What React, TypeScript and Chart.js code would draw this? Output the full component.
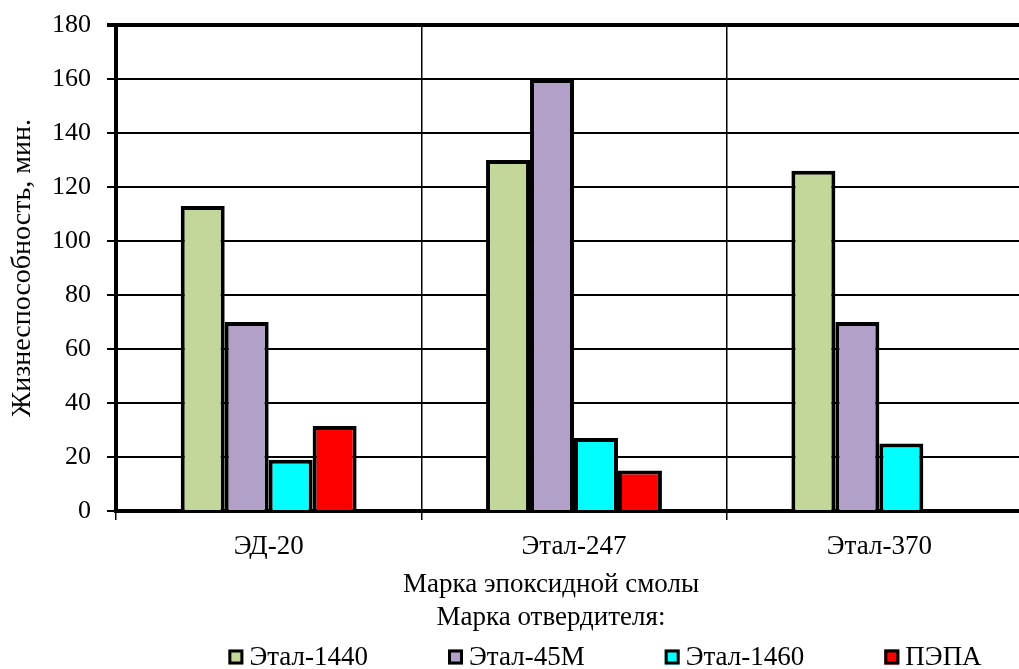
import React, { useEffect, useRef } from "react";
import { Chart, registerables } from "chart.js";

Chart.register(...registerables);

const categories = ["ЭД-20", "Этал-247", "Этал-370"];
const seriesLabels = ["Этал-1440", "Этал-45М", "Этал-1460", "ПЭПА"];
const etal1440 = [113, 130, 126];
const etal45m = [70, 160, 70];
const etal1460 = [19, 27, 25];
const pepa = [31.5, 15, null];
const seriesColors = ["#C4D79B", "#B1A0C7", "#00FFFF", "#FF0000"];
const yTicksMin = 0;
const yTicksMax = 180;
const yTicksStep = 20;

const FONT = '"Liberation Serif", "Times New Roman", serif';
const FS = 27;
const W = 1102;
const H = 669;
const LEGEND_CENTER_X = 605;
const LEGEND_CENTER_Y = 657;

const legendPlugin = {
  id: "customLegend",
  afterDraw(chart: any) {
    const ctx = chart.ctx;
    ctx.save();
    ctx.font = `${FS}px ${FONT}`;
    ctx.textBaseline = "middle";
    ctx.textAlign = "left";
    const box = 15;
    const gap = 6;
    const itemGap = 80;
    const ds = chart.data.datasets;
    const widths = ds.map((d: any) => box + gap + ctx.measureText(d.label).width);
    const total = widths.reduce((a: number, b: number) => a + b, 0) + itemGap * (ds.length - 1);
    let x = LEGEND_CENTER_X - total / 2;
    ds.forEach((d: any, i: number) => {
      const y = LEGEND_CENTER_Y;
      ctx.fillStyle = d.backgroundColor;
      ctx.fillRect(x, y - box / 2, box, box);
      ctx.lineWidth = 3;
      ctx.strokeStyle = "#000";
      ctx.strokeRect(x + 1.5, y - box / 2 + 1.5, box - 3, box - 3);
      ctx.fillStyle = "#000";
      ctx.fillText(d.label, x + box + gap, y + 1);
      x += widths[i] + itemGap;
    });
    ctx.restore();
  },
};

export default function App() {
  const ref = useRef<HTMLCanvasElement | null>(null);

  useEffect(() => {
    if (!ref.current) return;
    const values = [etal1440, etal45m, etal1460, pepa];
    const chart = new Chart(ref.current, {
      type: "bar",
      data: {
        labels: categories,
        datasets: values.map((v, i) => ({
          label: seriesLabels[i],
          data: v,
          backgroundColor: seriesColors[i],
          borderColor: "#000",
          borderWidth: 4,
          borderSkipped: "start",
          categoryPercentage: 0.576,
          barPercentage: 1,
        })),
      },
      options: {
        responsive: false,
        animation: false,
        layout: { padding: { top: 25, bottom: 35, left: 0, right: 0 } },
        plugins: {
          legend: { display: false },
          tooltip: { enabled: false },
          title: {
            display: true,
            position: "bottom",
            text: ["Марка эпоксидной смолы", "Марка отвердителя:"],
            color: "#000",
            font: { family: FONT, size: FS, weight: "normal", lineHeight: 32.5 / FS },
            padding: { top: 10, bottom: 0 },
          },
        },
        scales: {
          x: {
            grid: {
              color: "#000",
              lineWidth: 1.5,
              offset: true,
              tickLength: 9,
              drawTicks: true,
            },
            border: { display: true, color: "#000", width: 4 },
            ticks: {
              color: "#000",
              font: { family: FONT, size: FS },
              padding: 11,
            },
            afterFit: (s: any) => {
              s.height = 48;
              s.paddingLeft = 0;
              s.paddingRight = 0;
            },
          },
          y: {
            min: yTicksMin,
            max: yTicksMax,
            grid: {
              color: "#000",
              lineWidth: (c: any) => (c.tick && c.tick.value === yTicksMax ? 4 : 2),
              tickLength: 9,
            },
            border: { display: true, color: "#000", width: 4 },
            ticks: {
              stepSize: yTicksStep,
              color: "#000",
              font: { family: FONT, size: 26 },
              padding: 16,
            },
            title: {
              display: true,
              text: "Жизнеспособность, мин.",
              color: "#000",
              font: { family: FONT, size: 28 },
              padding: { top: 6, bottom: 0 },
            },
            afterFit: (s: any) => {
              s.width = 116;
              s.paddingTop = 0;
              s.paddingBottom = 0;
            },
          },
          yR: {
            type: "linear",
            position: "right",
            display: true,
            grid: { display: false, drawTicks: false },
            border: { display: false },
            ticks: { display: false },
            afterFit: (s: any) => {
              s.width = 70;
            },
          },
        },
      },
      plugins: [legendPlugin],
    } as any);
    return () => chart.destroy();
  }, []);

  return (
    <div
      style={{
        position: "absolute",
        left: 0,
        top: 0,
        width: 1019,
        height: H,
        overflow: "hidden",
        background: "#fff",
      }}
    >
      <canvas ref={ref} width={W} height={H} style={{ display: "block" }} />
    </div>
  );
}
